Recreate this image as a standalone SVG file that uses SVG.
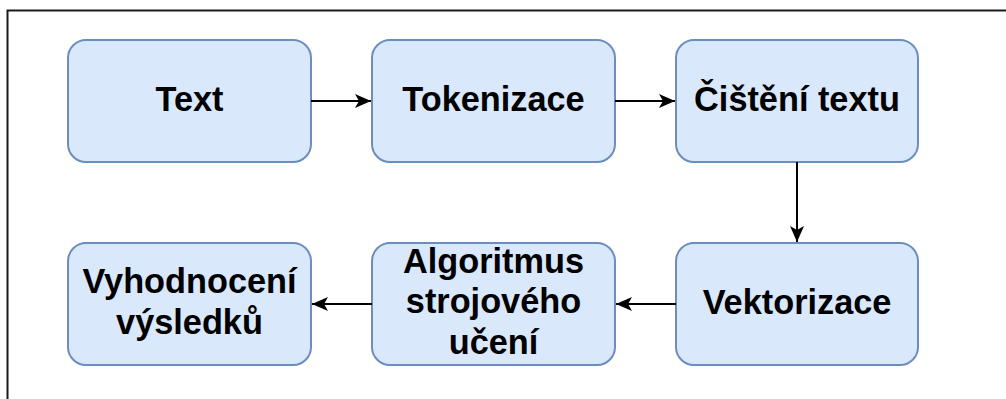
<svg xmlns="http://www.w3.org/2000/svg" width="1006" height="399" viewBox="0 0 1006 399">
<style>
.box{fill:#dae8fc;stroke:#6c8ebf;stroke-width:2}
.lbl{font-family:"Liberation Sans",Arial,sans-serif;font-weight:bold;font-size:34.3px;fill:#000;text-anchor:middle}
.edge{fill:none;stroke:#000;stroke-width:2}
</style>
<defs>
<marker id="arr" viewBox="0 0 16 14" refX="16" refY="7" markerWidth="16" markerHeight="14" markerUnits="userSpaceOnUse" orient="auto">
<path d="M0,0 L16,7 L0,14 L4,7 Z" fill="#000"/>
</marker>
</defs>
<rect x="0" y="0" width="1006" height="399" fill="#fff"/>
<path d="M7.5,420 V10.5 H1010" fill="none" stroke="#1a1a1a" stroke-width="2"/>
<g id="n1"><rect class="box" x="68" y="40" width="243" height="122" rx="18"/><text class="lbl" x="189.5" y="110.5">Text</text></g>
<g id="n2"><rect class="box" x="372" y="40" width="243" height="122" rx="18"/><text class="lbl" x="493.5" y="110.5">Tokenizace</text></g>
<g id="n3"><rect class="box" x="676" y="40" width="242" height="122" rx="18"/><text class="lbl" x="797" y="110.5">Čištění textu</text></g>
<g id="n4"><rect class="box" x="676" y="243" width="242" height="122" rx="18"/><text class="lbl" x="797" y="313.5">Vektorizace</text></g>
<g id="n5"><rect class="box" x="372" y="243" width="243" height="122" rx="18"/><text class="lbl" x="493.5"><tspan x="493.5" y="272.5">Algoritmus</tspan><tspan x="493.5" y="313">strojového</tspan><tspan x="493.5" y="353.5">učení</tspan></text></g>
<g id="n6"><rect class="box" x="68" y="243" width="243" height="122" rx="18"/><text class="lbl" x="189.5"><tspan x="189.5" y="293">Vyhodnocení</tspan><tspan x="189.5" y="333.5">výsledků</tspan></text></g>
<g id="edges">
<path class="edge" d="M311,101 H371" marker-end="url(#arr)"/>
<path class="edge" d="M615,101 H675" marker-end="url(#arr)"/>
<path class="edge" d="M797,162 V242" marker-end="url(#arr)"/>
<path class="edge" d="M676,304 H616" marker-end="url(#arr)"/>
<path class="edge" d="M372,304 H312" marker-end="url(#arr)"/>
</g>
</svg>
